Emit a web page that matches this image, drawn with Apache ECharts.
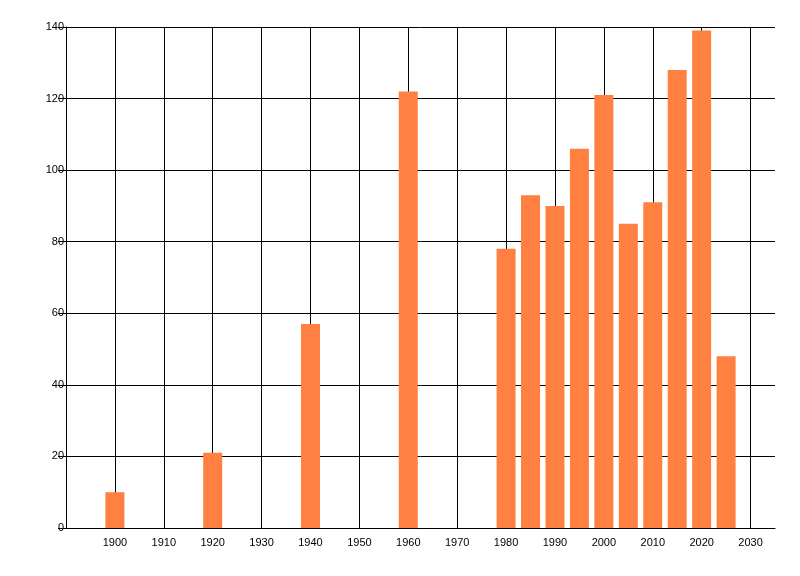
<!DOCTYPE html>
<html>
<head>
<meta charset="utf-8">
<script src="https://cdn.jsdelivr.net/npm/echarts@6/dist/echarts.min.js"></script>
<style>
  html, body { margin: 0; padding: 0; background: #fff; }
  #chart { width: 800px; height: 576px; }
</style>
</head>
<body>
<div id="chart"></div>
<script>
// years and values
var years = [1900, 1920, 1940, 1960, 1980, 1985, 1990, 1995, 2000, 2005, 2010, 2015, 2020, 2025];
var values = [10, 21, 57, 122, 78, 93, 90, 106, 121, 85, 91, 128, 139, 48];
var xMin = 1890, xMax = 2035, xStep = 10;
var yMax = 140, yStep = 20;

var myChart = echarts.init(document.getElementById("chart"));

var option = {
    animation: false,
    backgroundColor: "#ffffff",
    grid: { left: 66, right: 25, top: 27, bottom: 48, containLabel: false },
    xAxis: {
        type: "value",
        min: xMin,
        max: xMax,
        interval: xStep,
        axisLine: { show: true, lineStyle: { color: "#000", width: 1 } },
        axisTick: { show: false },
        axisLabel: {
            color: "#000",
            fontFamily: "Liberation Sans",
            fontSize: 11,
            margin: 9,
            showMinLabel: false,
            showMaxLabel: false,
            formatter: function(v) { return v > xMin && v < xMax ? String(v) : ""; }
        },
        splitLine: {
            show: true,
            showMinLine: false,
            showMaxLine: false,
            lineStyle: { color: "#000", width: 1 }
        }
    },
    yAxis: {
        type: "value",
        min: 0,
        max: yMax,
        interval: yStep,
        axisLine: { show: true, lineStyle: { color: "#000", width: 1 } },
        axisTick: { show: true, length: 8, lineStyle: { color: "#000" } },
        axisLabel: {
            color: "#000",
            fontFamily: "Liberation Sans",
            fontSize: 11,
            margin: 2
        },
        splitLine: { show: true, lineStyle: { color: "#000", width: 1 } }
    },
    series: [{
        type: "bar",
        barWidth: 19,
        itemStyle: { color: "#FF8040" },
        data: years.map(function(y, i) { return [y, values[i]]; })
    }]
};
myChart.setOption(option);
</script>
</body>
</html>
